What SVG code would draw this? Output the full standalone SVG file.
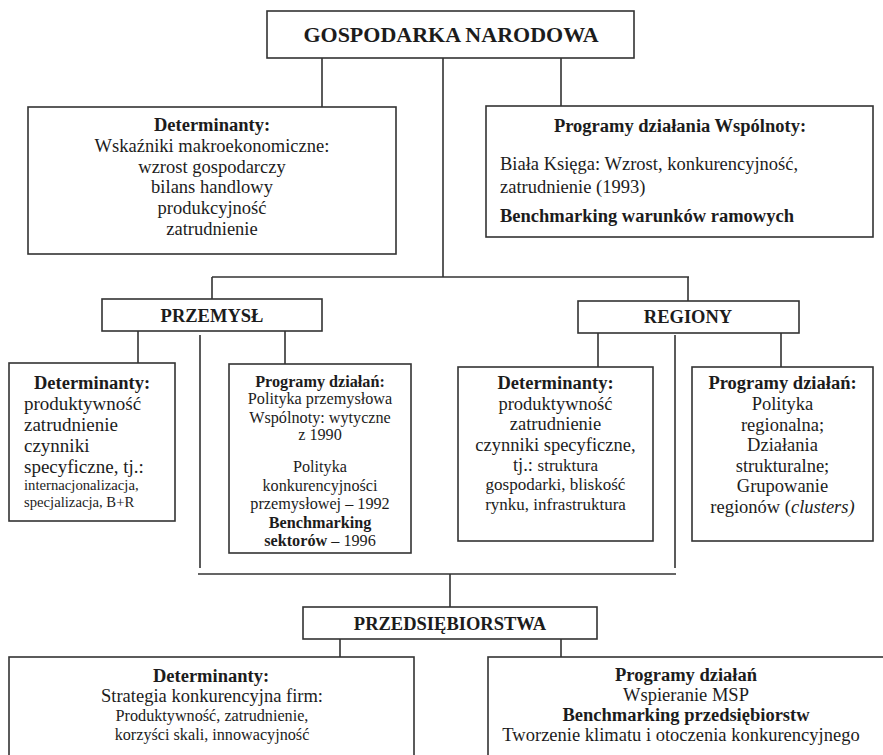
<svg xmlns="http://www.w3.org/2000/svg" width="883" height="755" viewBox="0 0 883 755">
<style>
.box{fill:#fff;stroke:#333;stroke-width:1.6}
.ln{fill:none;stroke:#333;stroke-width:1.6}
text{font-family:"Liberation Serif","Times New Roman",serif;fill:#1c1c1c}
.c{text-anchor:middle}
.b{font-weight:bold}
.f18{font-size:18.5px}
.f16{font-size:16.2px}
.f17{font-size:17px}
.f15{font-size:14.7px}
.f19{font-size:19px}
</style>
<rect width="883" height="755" fill="#fff"/>
<g id="connectors">
<path class="ln" d="M322 58V107M443 58V277M561 58V107M212 277H689M212 277V299M688 277V301"/>
<path class="ln" d="M138 331V363M285 331V364M200 335V568M598 333V367M781 333V367M675 335V568"/>
<path class="ln" d="M198 574H676M450 574V607M340 639V657M561 639V657"/>
</g>
<g id="gospodarka">
<rect class="box" x="267" y="11" width="367" height="47"/>
<text class="c b" x="451" y="42" font-size="22px">GOSPODARKA NARODOWA</text>
</g>
<g id="gn-determinanty">
<rect class="box" x="28" y="107" width="368" height="147"/>
<text class="c f18" x="212" y="131"><tspan class="b">Determinanty:</tspan><tspan x="212" dy="20.8">Wskaźniki makroekonomiczne:</tspan><tspan x="212" dy="20.8">wzrost gospodarczy</tspan><tspan x="212" dy="20.8">bilans handlowy</tspan><tspan x="212" dy="20.8">produkcyjność</tspan><tspan x="212" dy="20.8">zatrudnienie</tspan></text>
</g>
<g id="gn-programy">
<rect class="box" x="486" y="106" width="387" height="131"/>
<text class="c b f18" x="680" y="132">Programy działania Wspólnoty:</text>
<text class="f18" x="500" y="170">Biała Księga: Wzrost, konkurencyjność,</text>
<text class="f18" x="500" y="193">zatrudnienie (1993)</text>
<text class="b f18" x="500" y="222">Benchmarking warunków ramowych</text>
</g>
<g id="przemysl">
<rect class="box" x="102" y="299" width="220" height="32"/>
<text class="c b f18" x="212" y="322">PRZEMYSŁ</text>
</g>
<g id="przemysl-determinanty">
<rect class="box" x="9" y="363" width="166" height="158"/>
<text class="c b f18" x="92" y="389">Determinanty:</text>
<text class="f19" x="24" y="410">produktywność</text>
<text class="f19" x="24" y="431">zatrudnienie</text>
<text class="f19" x="24" y="452">czynniki</text>
<text class="f19" x="24" y="473">specyficzne, tj.:</text>
<text class="f15" x="24" y="490">internacjonalizacja,</text>
<text class="f15" x="24" y="507">specjalizacja, B+R</text>
</g>
<g id="przemysl-programy">
<rect class="box" x="229" y="364" width="182" height="189"/>
<text class="c f16" x="320" y="387"><tspan class="b">Programy działań:</tspan><tspan x="320" dy="17">Polityka przemysłowa</tspan><tspan x="320" dy="18.5">Wspólnoty: wytyczne</tspan><tspan x="320" dy="17.5">z 1990</tspan><tspan x="320" dy="32">Polityka</tspan><tspan x="320" dy="18.5">konkurencyjności</tspan><tspan x="320" dy="18.5">przemysłowej – 1992</tspan><tspan x="320" dy="18.5" class="b">Benchmarking</tspan><tspan x="320" dy="18.5" class="b">sektorów</tspan><tspan> – 1996</tspan></text>
</g>
<g id="regiony">
<rect class="box" x="578" y="301" width="221" height="32"/>
<text class="c b f18" x="688" y="323">REGIONY</text>
</g>
<g id="regiony-determinanty">
<rect class="box" x="458" y="367" width="195" height="174"/>
<text class="c f18" x="555.5" y="389"><tspan class="b">Determinanty:</tspan><tspan x="555.5" dy="20.5">produktywność</tspan><tspan x="555.5" dy="20.5">zatrudnienie</tspan><tspan x="555.5" dy="20.5">czynniki specyficzne,</tspan><tspan x="555.5" dy="20">tj.: <tspan class="f17">struktura</tspan></tspan></text>
<text class="c f17" x="555.5" y="490">gospodarki, bliskość</text>
<text class="c f17" x="555.5" y="510">rynku, infrastruktura</text>
</g>
<g id="regiony-programy">
<rect class="box" x="692" y="367" width="181" height="174"/>
<text class="c f18" x="782.5" y="389"><tspan class="b">Programy działań:</tspan><tspan x="782.5" dy="21">Polityka</tspan><tspan x="782.5" dy="20.5">regionalna;</tspan><tspan x="782.5" dy="20.5">Działania</tspan><tspan x="782.5" dy="20.5">strukturalne;</tspan><tspan x="782.5" dy="20.5">Grupowanie</tspan><tspan x="782.5" dy="20.5">regionów (<tspan font-style="italic">clusters)</tspan></tspan></text>
</g>
<g id="przedsiebiorstwa">
<rect class="box" x="303" y="607" width="294" height="32"/>
<text class="c b f18" x="450" y="630">PRZEDSIĘBIORSTWA</text>
</g>
<g id="przeds-determinanty">
<rect class="box" x="9" y="657" width="405" height="130"/>
<text class="c b f18" x="211" y="682">Determinanty:</text>
<text class="c f18" x="212" y="702">Strategia konkurencyjna firm:</text>
<text class="c f16" x="212" y="721">Produktywność, zatrudnienie,</text>
<text class="c f16" x="212" y="740">korzyści skali, innowacyjność</text>
</g>
<g id="przeds-programy">
<rect class="box" x="488" y="657" width="420" height="130"/>
<text class="c b f18" x="686" y="681">Programy działań</text>
<text class="c f18" x="686" y="701">Wspieranie MSP</text>
<text class="c b f18" x="686" y="721">Benchmarking przedsiębiorstw</text>
<text class="c f18" x="681" y="741">Tworzenie klimatu i otoczenia konkurencyjnego</text>
</g>
</svg>
